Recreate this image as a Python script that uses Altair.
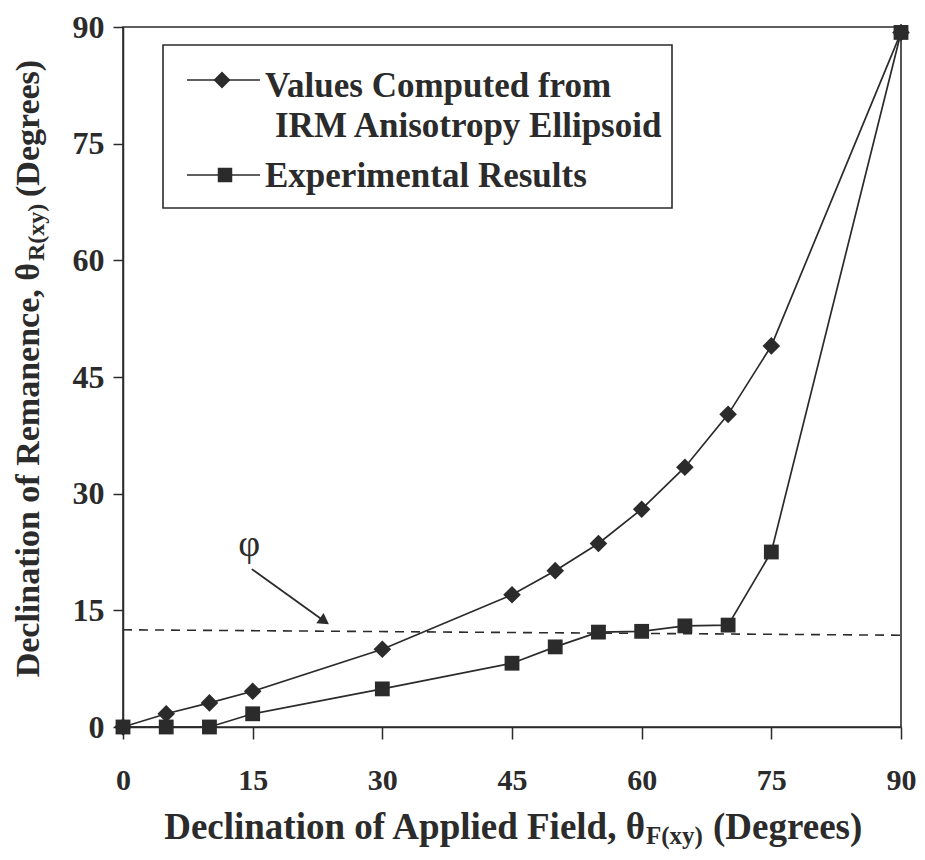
import altair as alt
import pandas as pd

# ---------------- data ----------------
x_vals = [0, 5, 10, 15, 30, 45, 50, 55, 60, 65, 70, 75, 90]
computed = [0, 1.7, 3.1, 4.6, 10.0, 17.0, 20.1, 23.6, 28.0, 33.4, 40.2, 49.0, 89.3]
experimental = [0, 0, 0, 1.7, 4.9, 8.2, 10.3, 12.2, 12.3, 13.0, 13.1, 22.5, 89.3]
tick_values = [0, 15, 30, 45, 60, 75, 90]

phi_line_x = [0, 90]
phi_line_y = [12.5, 11.8]
arrow_x = [14.9, 23.3]
arrow_y = [20.3, 13.6]
phi_label_x = [14.6]
phi_label_y = [23.4]

S1 = "Values Computed from IRM Anisotropy Ellipsoid"
S2 = "Experimental Results"

FONT = "Liberation Serif"
INK = "#2b2b2b"

df_c = pd.DataFrame({"x": x_vals, "y": computed})
df_e = pd.DataFrame({"x": x_vals, "y": experimental})

xscale = alt.Scale(domain=[0, 90], nice=False, zero=True)
yscale = alt.Scale(domain=[0, 90], nice=False, zero=True)

x_axis = alt.Axis(values=tick_values, title=None, grid=False, labelFont=FONT,
                  labelFontSize=30, labelFontWeight="bold", labelColor=INK,
                  labelBaseline="alphabetic", labelPadding=50, labelFlush=False,
                  tickSize=12, tickColor=INK, tickWidth=1.5,
                  domainColor=INK, domainWidth=1.5)
y_axis = alt.Axis(values=tick_values, title=None, grid=False, labelFont=FONT,
                  labelFontSize=32, labelFontWeight="bold", labelColor=INK,
                  labelPadding=9, labelFlush=False,
                  tickSize=10, tickColor=INK, tickWidth=1.5,
                  domainColor=INK, domainWidth=1.5)

X = alt.X("x:Q", scale=xscale, axis=x_axis)
Y = alt.Y("y:Q", scale=yscale, axis=y_axis)

line_c = alt.Chart(df_c).mark_line(color=INK, strokeWidth=1.7).encode(x=X, y=Y)
line_e = alt.Chart(df_e).mark_line(color=INK, strokeWidth=1.7).encode(x=X, y=Y)
pts_c = alt.Chart(df_c).mark_point(shape="diamond", filled=True, color=INK,
                                   opacity=1, size=310).encode(x=X, y=Y)
pts_e = alt.Chart(df_e).mark_point(shape="square", filled=True, color=INK,
                                   opacity=1, size=220).encode(x=X, y=Y)

# dashed phi line
df_phi = pd.DataFrame({"x": [phi_line_x[0]], "x2": [phi_line_x[1]],
                       "y": [phi_line_y[0]], "y2": [phi_line_y[1]]})
phi_rule = alt.Chart(df_phi).mark_rule(color=INK, strokeWidth=1.6,
                                       strokeDash=[9, 7]).encode(
    x=alt.X("x:Q", scale=xscale), x2="x2:Q",
    y=alt.Y("y:Q", scale=yscale), y2="y2:Q")

# arrow
df_arrow = pd.DataFrame({"x": [arrow_x[0]], "x2": [arrow_x[1]],
                         "y": [arrow_y[0]], "y2": [arrow_y[1]]})
arrow_line = alt.Chart(df_arrow).mark_rule(color=INK, strokeWidth=1.8).encode(
    x=alt.X("x:Q", scale=xscale), x2="x2:Q",
    y=alt.Y("y:Q", scale=yscale), y2="y2:Q")
df_head = pd.DataFrame({"x": [arrow_x[1]], "y": [arrow_y[1]]})
arrow_head = alt.Chart(df_head).mark_point(shape="triangle-right", filled=True,
                                           color=INK, opacity=1, size=160,
                                           angle=35).encode(
    x=alt.X("x:Q", scale=xscale), y=alt.Y("y:Q", scale=yscale))
df_phil = pd.DataFrame({"x": phi_label_x, "y": phi_label_y, "t": ["φ"]})
phi_text = alt.Chart(df_phil).mark_text(font=FONT, fontSize=38, color=INK,
                                        baseline="middle", align="center").encode(
    x=alt.X("x:Q", scale=xscale), y=alt.Y("y:Q", scale=yscale), text="t:N")

dummy = pd.DataFrame({"a": [0]})


def label(txt, x, y, size, align="left", angle=0, weight="bold"):
    kw = dict(text=txt, font=FONT, fontSize=size, fontWeight=weight, color=INK,
              align=align, baseline="alphabetic")
    if angle:
        kw["angle"] = angle
    return alt.Chart(dummy).mark_text(**kw).encode(x=alt.value(x), y=alt.value(y))


# axis titles (with subscripts)
xt1 = label("Declination of Applied Field, θ", 522, 812, 37, align="right")
xt2 = label("F(xy)", 523, 817, 25)
xt3 = label("(Degrees)", 590, 812, 37)

yt1 = label("Declination of Remanence, θ", -84, 236, 34, align="right", angle=270)
yt2 = label("R(xy)", -79, 234, 24, angle=270)
yt3 = label("(Degrees)", -84, 170, 34, angle=270)

# legend
frame = alt.Chart(dummy).mark_rect(fill="white", stroke=INK, strokeWidth=1.6).encode(
    x=alt.value(40), x2=alt.value(549), y=alt.value(18), y2=alt.value(181))
leg_l1 = alt.Chart(dummy).mark_rule(color=INK, strokeWidth=1.6).encode(
    x=alt.value(64), x2=alt.value(137), y=alt.value(53))
leg_p1 = alt.Chart(dummy).mark_point(shape="diamond", filled=True, color=INK,
                                     opacity=1, size=290).encode(
    x=alt.value(99), y=alt.value(53))
leg_l2 = alt.Chart(dummy).mark_rule(color=INK, strokeWidth=1.6).encode(
    x=alt.value(64), x2=alt.value(137), y=alt.value(148))
leg_p2 = alt.Chart(dummy).mark_point(shape="square", filled=True, color=INK,
                                     opacity=1, size=210).encode(
    x=alt.value(102), y=alt.value(148))
leg_t1 = label("Values Computed from", 142, 70, 35)
leg_t2 = label("IRM Anisotropy Ellipsoid", 152, 110, 35)
leg_t3 = label(S2, 142, 160, 35)

chart = alt.layer(
    phi_rule, line_c, line_e, pts_c, pts_e, arrow_line, arrow_head, phi_text,
    xt1, xt2, xt3, yt1, yt2, yt3,
    frame, leg_l1, leg_p1, leg_l2, leg_p2, leg_t1, leg_t2, leg_t3,
).properties(
    width=778, height=700,
    padding={"left": 115, "top": 19, "right": 16, "bottom": 125},
    autosize=alt.AutoSizeParams(type="none"),
).configure_view(stroke=INK, strokeWidth=1.6)

chart.save("out.html", embed_options={"renderer": "svg", "actions": False})
